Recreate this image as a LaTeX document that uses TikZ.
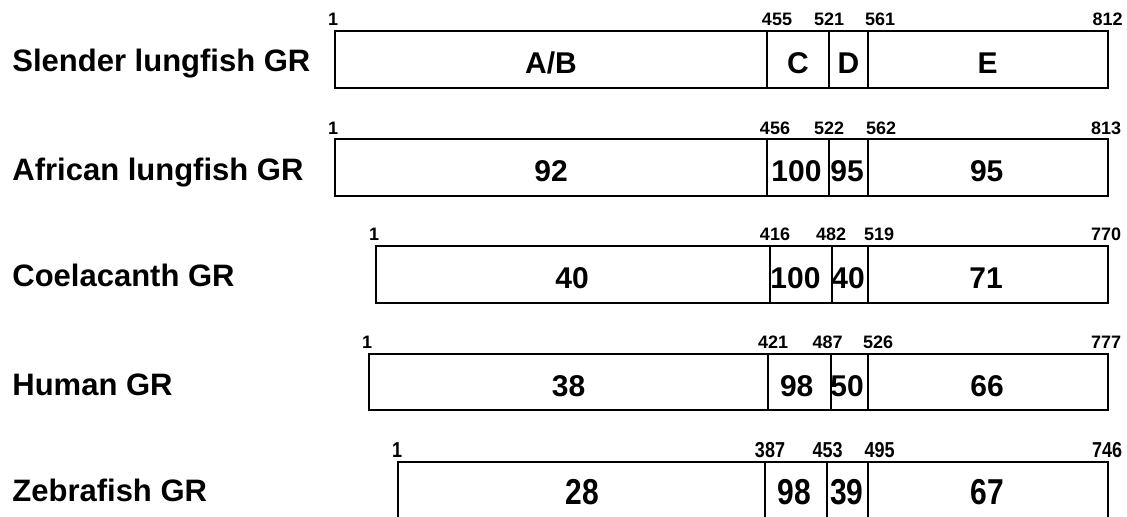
\documentclass[tikz,border=0pt]{standalone}
\usepackage{fontspec}
\setmainfont{Liberation Sans}
\newcommand{\tallnum}[1]{\scalebox{1}[1.2]{#1}}
\begin{document}
\begin{tikzpicture}[x=0.5pt,y=-0.5pt,
  species/.style={anchor=base west,inner sep=0,font=\bfseries\fontsize{15.5}{18}\selectfont},
  domlabel/.style={anchor=base,inner sep=0,font=\bfseries\fontsize{15}{18}\selectfont},
  resnum/.style={anchor=base,inner sep=0,font=\bfseries\fontsize{9}{11}\selectfont},
  gene/.style={line width=0.9pt}]

\clip (0,0) rectangle (1127,517);

% slender lungfish
\node[species] (slender) at (12,71.7) {Slender lungfish GR};
\draw[gene] (335,30.7) rectangle (1107.7,87.7);
\draw[gene] (766.7,30.7) -- (766.7,87.7);
\draw[gene] (829.3,30.7) -- (829.3,87.7);
\draw[gene] (867.7,30.7) -- (867.7,87.7);
\node[domlabel] (slAB) at (551,73.4) {A/B};
\node[domlabel] (slC) at (798,73.4) {C};
\node[domlabel] (slD) at (848.5,73.4) {D};
\node[domlabel] (slE) at (987.7,73.4) {E};
\node[resnum] (slS) at (333,25.7) {1};
\node[resnum] (slCs) at (777,25.7) {455};
\node[resnum] (slDs) at (829,25.7) {521};
\node[resnum] (slEs) at (880,25.7) {561};
\node[resnum] (slEnd) at (1107.5,25.7) {812};

% african lungfish
\node[species] (african) at (12,180.3) {African lungfish GR};
\draw[gene] (335,139.3) rectangle (1107.7,195.7);
\draw[gene] (766.7,139.3) -- (766.7,195.7);
\draw[gene] (829.3,139.3) -- (829.3,195.7);
\draw[gene] (867.7,139.3) -- (867.7,195.7);
\node[domlabel] (afAB) at (551,182) {92};
\node[domlabel] (afC) at (796.5,182) {100};
\node[domlabel] (afD) at (847,182) {95};
\node[domlabel] (afE) at (986.7,182) {95};
\node[resnum] (afS) at (333,134.3) {1};
\node[resnum] (afCs) at (775,134.3) {456};
\node[resnum] (afDs) at (829,134.3) {522};
\node[resnum] (afEs) at (881,134.3) {562};
\node[resnum] (afEnd) at (1106,134.3) {813};

% coelacanth
\node[species] (coela) at (12,287) {Coelacanth GR};
\draw[gene] (375.7,246) rectangle (1107.7,303.3);
\draw[gene] (770,246) -- (770,303.3);
\draw[gene] (832,246) -- (832,303.3);
\draw[gene] (867.7,246) -- (867.7,303.3);
\node[domlabel] (coAB) at (572,288.7) {40};
\node[domlabel] (coC) at (795.5,288.7) {100};
\node[domlabel] (coD) at (848,288.7) {40};
\node[domlabel] (coE) at (986,288.7) {71};
\node[resnum] (coS) at (374,241) {1};
\node[resnum] (coCs) at (775,241) {416};
\node[resnum] (coDs) at (831,241) {482};
\node[resnum] (coEs) at (879,241) {519};
\node[resnum] (coEnd) at (1106,241) {770};

% human
\node[species] (human) at (12,395) {Human GR};
\draw[gene] (369,354) rectangle (1107.7,410);
\draw[gene] (768,354) -- (768,410);
\draw[gene] (830.7,354) -- (830.7,410);
\draw[gene] (867.7,354) -- (867.7,410);
\node[domlabel] (huAB) at (568.5,396.7) {38};
\node[domlabel] (huC) at (796.7,396.7) {98};
\node[domlabel] (huD) at (847,396.7) {50};
\node[domlabel] (huE) at (987,396.7) {66};
\node[resnum] (huS) at (367,349) {1};
\node[resnum] (huCs) at (773,349) {421};
\node[resnum] (huDs) at (827.5,349) {487};
\node[resnum] (huEs) at (878,349) {526};
\node[resnum] (huEnd) at (1106,349) {777};

% zebrafish
\node[species] (zebra) at (12,501.7) {Zebrafish GR};
\draw[gene] (398.3,461.7) rectangle (1107.7,535);
\draw[gene] (765.3,461.7) -- (765.3,535);
\draw[gene] (827.3,461.7) -- (827.3,535);
\draw[gene] (867.7,461.7) -- (867.7,535);
\node[domlabel] (zeAB) at (582,504) {\tallnum{28}};
\node[domlabel] (zeC) at (794,504) {\tallnum{98}};
\node[domlabel] (zeD) at (846.7,504) {\tallnum{39}};
\node[domlabel] (zeE) at (987,504) {\tallnum{67}};
\node[resnum] (zeS) at (397,457.3) {\tallnum{1}};
\node[resnum] (zeCs) at (770,457.3) {\tallnum{387}};
\node[resnum] (zeDs) at (827.5,457.3) {\tallnum{453}};
\node[resnum] (zeEs) at (879.5,457.3) {\tallnum{495}};
\node[resnum] (zeEnd) at (1107,457.3) {\tallnum{746}};

\end{tikzpicture}
\end{document}
